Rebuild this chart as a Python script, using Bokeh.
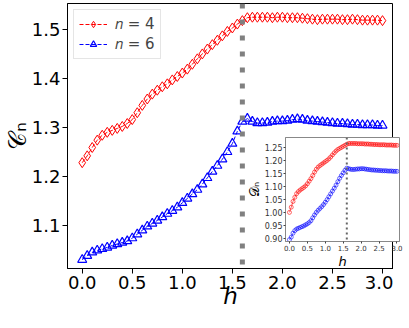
from bokeh.plotting import figure
from bokeh.models import Range1d, FixedTicker, Span, NumeralTickFormatter
from bokeh.embed import file_html
from bokeh.resources import INLINE

# ---------------- data ----------------
h = [0.00, 0.05, 0.10, 0.15, 0.20, 0.25, 0.30, 0.35, 0.40, 0.45,
     0.50, 0.55, 0.60, 0.65, 0.70, 0.75, 0.80, 0.85, 0.90, 0.95,
     1.00, 1.05, 1.10, 1.15, 1.20, 1.25, 1.30, 1.35, 1.40, 1.45,
     1.50, 1.55, 1.60, 1.65, 1.70, 1.75, 1.80, 1.85, 1.90, 1.95,
     2.00, 2.05, 2.10, 2.15, 2.20, 2.25, 2.30, 2.35, 2.40, 2.45,
     2.50, 2.55, 2.60, 2.65, 2.70, 2.75, 2.80, 2.85, 2.90, 2.95, 3.00]

C4 = [1.228, 1.242, 1.259, 1.274, 1.284, 1.290, 1.294, 1.298, 1.302, 1.308,
      1.316, 1.330, 1.345, 1.358, 1.368, 1.376, 1.383, 1.389, 1.397, 1.404,
      1.411, 1.419, 1.429, 1.440, 1.450, 1.460, 1.469, 1.478, 1.487, 1.496,
      1.503, 1.511, 1.518, 1.524, 1.525, 1.525, 1.525, 1.525, 1.524, 1.525,
      1.525, 1.524, 1.524, 1.524, 1.523, 1.522, 1.521, 1.520, 1.521, 1.521,
      1.521, 1.521, 1.520, 1.520, 1.521, 1.520, 1.519, 1.519, 1.519, 1.519, 1.518]

C6 = [1.030, 1.038, 1.045, 1.049, 1.052, 1.055, 1.059, 1.062, 1.065, 1.068,
      1.074, 1.082, 1.090, 1.098, 1.104, 1.110, 1.117, 1.124, 1.130, 1.137,
      1.146, 1.155, 1.164, 1.173, 1.184, 1.197, 1.210, 1.222, 1.235, 1.250,
      1.267, 1.292, 1.312, 1.318, 1.312, 1.309, 1.309, 1.310, 1.312, 1.313,
      1.313, 1.314, 1.316, 1.317, 1.316, 1.314, 1.313, 1.312, 1.311, 1.310,
      1.309, 1.308, 1.308, 1.307, 1.306, 1.306, 1.305, 1.305, 1.305, 1.304, 1.304]

D4 = [1.000, 1.020, 1.042, 1.058, 1.072, 1.080, 1.086, 1.091, 1.096, 1.102,
      1.110, 1.120, 1.130, 1.142, 1.155, 1.166, 1.174, 1.180, 1.185, 1.190,
      1.195, 1.200, 1.206, 1.213, 1.221, 1.229, 1.236, 1.242, 1.246, 1.250,
      1.254, 1.258, 1.262, 1.265, 1.265, 1.265, 1.265, 1.265, 1.264, 1.264,
      1.264, 1.264, 1.263, 1.263, 1.263, 1.262, 1.262, 1.261, 1.261, 1.261,
      1.260, 1.260, 1.260, 1.260, 1.259, 1.259, 1.259, 1.259, 1.258, 1.258, 1.258]

D6 = [0.895, 0.905, 0.920, 0.930, 0.936, 0.939, 0.942, 0.945, 0.948, 0.952,
      0.956, 0.961, 0.968, 0.979, 0.990, 1.000, 1.008, 1.015, 1.022, 1.030,
      1.039, 1.049, 1.060, 1.071, 1.082, 1.093, 1.105, 1.118, 1.131, 1.142,
      1.152, 1.162, 1.170, 1.168, 1.166, 1.165, 1.165, 1.166, 1.167, 1.167,
      1.168, 1.168, 1.167, 1.166, 1.165, 1.164, 1.163, 1.163, 1.162, 1.162,
      1.161, 1.161, 1.160, 1.160, 1.160, 1.159, 1.159, 1.159, 1.158, 1.158, 1.158]

h_crit = 1.6
x_ticks = [0.0, 0.5, 1.0, 1.5, 2.0, 2.5, 3.0]
y_ticks = [1.1, 1.2, 1.3, 1.4, 1.5]
inset_y_ticks = [0.90, 0.95, 1.00, 1.05, 1.10, 1.15, 1.20, 1.25]
labels = ["\U0001D45B = 4", "\U0001D45B = 6"]

FONT = "DejaVu Sans"
RED = "#ff0000"
BLUE = "#0000ff"
GREY = "#808080"

# ---------------- main figure ----------------
p = figure(width=393, height=320, output_backend="svg", toolbar_location=None,
           x_range=Range1d(-0.147, 3.11), y_range=Range1d(1.012, 1.553),
           min_border_left=60, min_border_right=0, min_border_top=3,
           min_border_bottom=52)
p.grid.visible = False
p.outline_line_color = "black"
p.outline_line_width = 1
p.background_fill_color = "white"
p.border_fill_color = "white"

p.add_layout(Span(location=h_crit, dimension="height", line_color=GREY,
                  line_width=5, line_dash="5 11"))

p.line(h, C4, line_color=RED, line_width=1, line_dash="4 2", legend_label=labels[0])
p.scatter(h, C4, marker="diamond", size=10, line_color=RED, fill_color="white",
          fill_alpha=0, line_width=1, legend_label=labels[0])
p.line(h, C6, line_color=BLUE, line_width=1, line_dash="4 2", legend_label=labels[1])
p.scatter(h, C6, marker="triangle", size=9, line_color=BLUE, fill_color="white",
          fill_alpha=0, line_width=1.2, legend_label=labels[1])

for ax in (p.xaxis[0], p.yaxis[0]):
    ax.axis_line_color = "black"
    ax.major_tick_line_color = "black"
    ax.major_tick_out = 5
    ax.major_tick_in = 0
    ax.minor_tick_line_color = None
    ax.major_label_text_font = FONT
    ax.major_label_text_font_size = "18px"
    ax.major_label_text_color = "black"
    ax.axis_label_text_font = FONT
    ax.axis_label_text_color = "black"
    ax.axis_label_text_font_style = "normal"
    ax.major_label_standoff = 2

p.xaxis.ticker = FixedTicker(ticks=x_ticks)
p.xaxis.formatter = NumeralTickFormatter(format="0.0")
p.yaxis.ticker = FixedTicker(ticks=y_ticks)
p.yaxis.formatter = NumeralTickFormatter(format="0.0")
p.xaxis.axis_label = "h"
p.xaxis.axis_label_text_font_style = "italic"
p.xaxis.axis_label_text_font_size = "23px"
p.xaxis.axis_label_standoff = -9
p.yaxis.axis_label = "\U0001D49E\u2099"
p.yaxis.axis_label_text_font_size = "24px"
p.yaxis.axis_label_standoff = -3

p.legend.location = "top_left"
p.legend.label_text_font = FONT
p.legend.label_text_font_size = "15px"
p.legend.glyph_width = 28
p.legend.glyph_height = 16
p.legend.spacing = 2
p.legend.padding = 5
p.legend.margin = 6
p.legend.border_line_color = "#cccccc"
p.legend.border_line_width = 1
p.legend.background_fill_alpha = 0.8
p.legend.label_standoff = 8

# ---------------- inset ----------------
ins = figure(frame_width=114, frame_height=104, output_backend="svg", toolbar_location=None,
             x_range=Range1d(-0.11, 3.07), y_range=Range1d(0.888, 1.288),
             min_border_left=42, min_border_right=8, min_border_top=5,
             min_border_bottom=22)
ins.grid.visible = False
ins.outline_line_color = "#888888"
ins.background_fill_color = "white"
ins.border_fill_alpha = 0
ins.add_layout(Span(location=h_crit, dimension="height", line_color="#666666",
                    line_width=2, line_dash="2 3"))
ins.line(h, D4, line_color=RED, line_width=1, line_alpha=0.6)
ins.scatter(h, D4, marker="circle", size=4, line_color=RED, fill_alpha=0,
            line_alpha=0.6, line_width=1)
ins.line(h, D6, line_color=BLUE, line_width=1, line_alpha=0.6)
ins.scatter(h, D6, marker="circle", size=4, line_color=BLUE, fill_alpha=0,
            line_alpha=0.6, line_width=1)
for ax in (ins.xaxis[0], ins.yaxis[0]):
    ax.axis_line_color = "#888888"
    ax.major_tick_line_color = "#444444"
    ax.major_tick_out = 2
    ax.major_tick_in = 0
    ax.minor_tick_line_color = None
    ax.major_label_text_font = FONT
    ax.major_label_text_color = "#333333"
    ax.major_label_standoff = 1
    ax.axis_label_text_font = FONT
    ax.axis_label_text_color = "black"
    ax.axis_label_standoff = 0
ins.xaxis.major_label_text_font_size = "7px"
ins.yaxis.major_label_text_font_size = "8px"
ins.xaxis.ticker = FixedTicker(ticks=x_ticks)
ins.xaxis.formatter = NumeralTickFormatter(format="0.0")
ins.yaxis.ticker = FixedTicker(ticks=inset_y_ticks)
ins.yaxis.formatter = NumeralTickFormatter(format="0.00")
ins.xaxis.axis_label = "h"
ins.xaxis.axis_label_text_font_style = "italic"
ins.xaxis.axis_label_text_font_size = "13px"
ins.yaxis.axis_label = "\U0001D49F\u2099"
ins.yaxis.axis_label_text_font_style = "normal"
ins.yaxis.axis_label_text_font_size = "13px"
ins.styles = {"position": "absolute", "left": "243px", "top": "132px"}

open("out.html", "w").write(file_html([p, ins], INLINE))
